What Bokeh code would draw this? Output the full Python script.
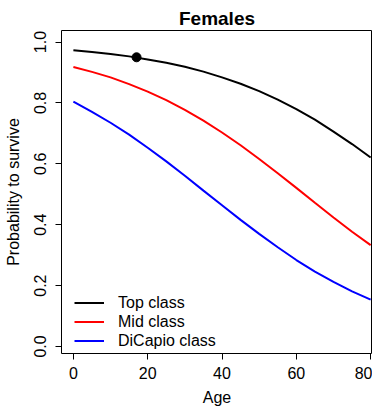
from bokeh.plotting import figure
from bokeh.models import Range1d, FixedTicker, Legend, LegendItem, NumeralTickFormatter
from bokeh.embed import file_html
from bokeh.resources import INLINE

# Data
ages = [0, 5, 10, 15, 20, 25, 30, 35, 40, 45, 50, 55, 60, 65, 70, 75, 80]
top_class = [0.973, 0.967, 0.961, 0.953, 0.943, 0.932, 0.919, 0.903, 0.884,
             0.863, 0.839, 0.811, 0.780, 0.745, 0.706, 0.665, 0.621]
mid_class = [0.918, 0.902, 0.884, 0.862, 0.837, 0.809, 0.777, 0.742, 0.703,
             0.661, 0.616, 0.569, 0.521, 0.472, 0.424, 0.377, 0.333]
dicapio_class = [0.804, 0.771, 0.735, 0.696, 0.653, 0.608, 0.561, 0.512, 0.464,
                 0.416, 0.370, 0.326, 0.284, 0.246, 0.212, 0.181, 0.154]
point_age = [17]
point_prob = [0.950]
series_names = ["Top class", "Mid class", "DiCapio class"]
series_colors = ["#000000", "#FF0000", "#0000FF"]
x_ticks = [0, 20, 40, 60, 80]
y_ticks = [0.0, 0.2, 0.4, 0.6, 0.8, 1.0]
title_text = "Females"

FONT = "Liberation Sans"

p = figure(width=372, height=408, output_backend="svg", toolbar_location=None,
           x_range=Range1d(-3.2, 80.5), y_range=Range1d(-0.023, 1.038),
           title=title_text, min_border_left=61, min_border_right=0,
           min_border_top=30, min_border_bottom=52)

p.title.text_font = FONT
p.title.text_font_size = "19px"
p.title.text_font_style = "bold"
p.title.align = "center"
p.title.text_color = "black"
p.title.standoff = 4

renderers = []
for vals, name, col in zip([top_class, mid_class, dicapio_class], series_names, series_colors):
    r = p.line(ages, vals, line_color=col, line_width=2)
    renderers.append(r)

p.scatter(point_age, point_prob, size=9, color="black")

p.grid.visible = False
p.outline_line_color = "black"
p.outline_line_width = 1
p.background_fill_color = "white"
p.border_fill_color = "white"

for ax in (p.xaxis[0], p.yaxis[0]):
    ax.axis_line_color = None
    ax.major_tick_line_color = "black"
    ax.major_tick_in = 0
    ax.major_tick_out = 6
    ax.minor_tick_line_color = None
    ax.major_label_text_font = FONT
    ax.major_label_text_font_size = "16px"
    ax.major_label_text_color = "black"
    ax.axis_label_text_font = FONT
    ax.axis_label_text_font_size = "16px"
    ax.axis_label_text_font_style = "normal"
    ax.axis_label_text_color = "black"

p.xaxis.ticker = FixedTicker(ticks=x_ticks)
p.xaxis.axis_label = "Age"
p.xaxis.major_label_standoff = 7
p.xaxis.axis_label_standoff = 7

p.yaxis.ticker = FixedTicker(ticks=y_ticks)
p.yaxis.formatter = NumeralTickFormatter(format="0.0")
p.yaxis.major_label_orientation = "vertical"
p.yaxis.axis_label = "Probability to survive"
p.yaxis.major_label_standoff = 9
p.yaxis.axis_label_standoff = 10

legend = Legend(items=[LegendItem(label=n, renderers=[r]) for n, r in zip(series_names, renderers)],
                location=(13, 3), border_line_color=None, background_fill_alpha=0,
                padding=0, margin=0, spacing=0, glyph_width=30, glyph_height=19,
                label_standoff=14, label_height=19, label_text_font=FONT,
                label_text_font_size="16px", label_text_color="black")
p.add_layout(legend, "center")

open("out.html", "w").write(file_html(p, INLINE))
